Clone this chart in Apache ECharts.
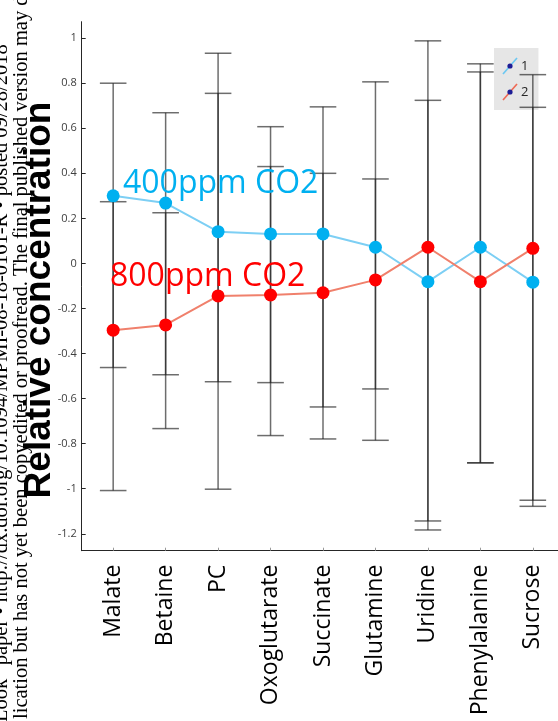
<!DOCTYPE html>
<html><head><meta charset="utf-8">
<script src="https://cdn.jsdelivr.net/npm/echarts@6/dist/echarts.min.js"></script>
<style>html,body{margin:0;padding:0;background:#fff}#c{width:558px;height:721px}</style>
</head><body><div id="c"></div>
<script>
const categories = ['Malate','Betaine','PC','Oxoglutarate','Succinate','Glutamine','Uridine','Phenylalanine','Sucrose'];
const xPos = [1,2,3,4,5,6,7,8,9];
const co2_400 = [0.30, 0.268, 0.141, 0.131, 0.131, 0.072, -0.081, 0.072, -0.083];
const co2_800 = [-0.296, -0.273, -0.144, -0.14, -0.13, -0.073, 0.072, -0.081, 0.067];
const err400High = [0.80, 0.669, 0.933, 0.607, 0.695, 0.806, 0.988, 0.886, 0.838];
const err400Low  = [-0.462, -0.494, -0.525, -0.529, -0.637, -0.557, -1.143, -0.885, -1.051];
const err800High = [0.274, 0.225, 0.755, 0.430, 0.40, 0.375, 0.724, 0.85, 0.693];
const err800Low  = [-1.008, -0.733, -1.002, -0.764, -0.779, -0.785, -1.183, -0.885, -1.078];
const yTicks = [-1.2,-1,-0.8,-0.6,-0.4,-0.2,0,0.2,0.4,0.6,0.8,1];
const seriesNames = ['1','2'];

function svgIcon(lineColor){
  const s = '<svg xmlns="http://www.w3.org/2000/svg" width="16" height="18" viewBox="0 0 16 18">'+
    '<line x1="1" y1="17" x2="15" y2="1" stroke="'+lineColor+'" stroke-width="1.6"/>'+
    '<circle cx="8" cy="9" r="2.6" fill="#1c1c96"/></svg>';
  return 'image://data:image/svg+xml;charset=utf-8,' + encodeURIComponent(s);
}

function renderErr(params, api){
  const x = api.value(0), lo = api.value(1), hi = api.value(2);
  const a = api.coord([x, lo]), b = api.coord([x, hi]);
  const hw = 13.3;
  const st = {stroke:'rgba(30,30,30,0.65)', lineWidth:1.5};
  return {type:'group', children:[
    {type:'line', shape:{x1:a[0],y1:a[1],x2:b[0],y2:b[1]}, style:st},
    {type:'line', shape:{x1:a[0]-hw,y1:a[1],x2:a[0]+hw,y2:a[1]}, style:st},
    {type:'line', shape:{x1:b[0]-hw,y1:b[1],x2:b[0]+hw,y2:b[1]}, style:st}
  ]};
}

const chart = echarts.init(document.getElementById('c'), null, {renderer:'canvas'});
chart.setOption({
  backgroundColor:'#fff',
  animation:false,
  grid:{left:81.7, top:21.7, right:-6.3, bottom:170.3, containLabel:false, outerBoundsMode:'none'},
  legend:{
    data:[{name:seriesNames[0], icon:svgIcon('#6cc8f2')},{name:seriesNames[1], icon:svgIcon('#ee6a55')}],
    orient:'vertical', left:494, top:48, itemWidth:16, itemHeight:18, itemGap:8,
    padding:[9,10,9,8], backgroundColor:'#e6e6e6', selectedMode:false, z:1,
    textStyle:{fontSize:13, color:'#262626', fontFamily:'Open Sans', padding:[0,0,0,-2]}
  },
  xAxis:{type:'value', min:0.4, max:9.6,
    axisLine:{show:true, onZero:false, lineStyle:{color:'#262626', width:1}},
    axisTick:{show:true, inside:true, length:3, customValues:xPos, lineStyle:{color:'#9a9a9a'}},
    axisLabel:{customValues:xPos, rotate:90, margin:14, fontSize:23, color:'#000', fontFamily:'Open Sans',
      formatter:v=>categories[Math.round(v)-1]},
    splitLine:{show:false}},
  yAxis:{type:'value', min:-1.275, max:1.073,
    axisLine:{show:true, lineStyle:{color:'#262626', width:1}},
    axisTick:{show:true, inside:true, length:4, customValues:yTicks, lineStyle:{color:'#262626'}},
    axisLabel:{customValues:yTicks, margin:5, fontSize:11, color:'#404040', fontFamily:'Open Sans',
      formatter:v=>String(+(+v).toFixed(1))},
    splitLine:{show:false}},
  graphic:[
    {type:'text', x:12, y:722, rotation:Math.PI/2, z:10,
      style:{text:'Look" paper \u2022 http://dx.doi.org/10.1094/MPMI-08-18-0161-R \u2022 posted 09/28/2018', fill:'#000', font:'20.5px "Liberation Serif"', align:'left', verticalAlign:'bottom'}},
    {type:'text', x:32, y:719, rotation:Math.PI/2, z:10,
      style:{text:'lication but has not yet been copyedited or proofread. The final published version may differ.', fill:'#000', font:'20.5px "Liberation Serif"', align:'left', verticalAlign:'bottom'}},
    {type:'text', x:58, y:300, rotation:Math.PI/2, z:11,
      style:{text:'Relative concentration', fill:'#000', font:'bold 37px "Liberation Sans"', align:'center', verticalAlign:'bottom'}},
    {type:'text', x:123, y:184, z:12,
      style:{text:'400ppm CO2', fill:'#00b0f0', font:'32px "Open Sans"', align:'left', verticalAlign:'middle'}},
    {type:'text', x:110, y:277, z:12,
      style:{text:'800ppm CO2', fill:'#ff0000', font:'32px "Open Sans"', align:'left', verticalAlign:'middle'}}
  ],
  series:[
    {type:'custom', name:'e400', z:2, clip:false, renderItem:renderErr,
      data:xPos.map((x,i)=>[x, err400Low[i], err400High[i]])},
    {type:'custom', name:'e800', z:2, clip:false, renderItem:renderErr,
      data:xPos.map((x,i)=>[x, err800Low[i], err800High[i]])},
    {type:'line', name:seriesNames[0], z:3, symbol:'circle', symbolSize:13,
      lineStyle:{color:'#7dcff4', width:2}, itemStyle:{color:'#00b0f0'},
      data:xPos.map((x,i)=>[x, co2_400[i]])},
    {type:'line', name:seriesNames[1], z:3, symbol:'circle', symbolSize:13,
      lineStyle:{color:'#f0806c', width:2}, itemStyle:{color:'#ff0000'},
      data:xPos.map((x,i)=>[x, co2_800[i]])}
  ]
});
</script></body></html>
